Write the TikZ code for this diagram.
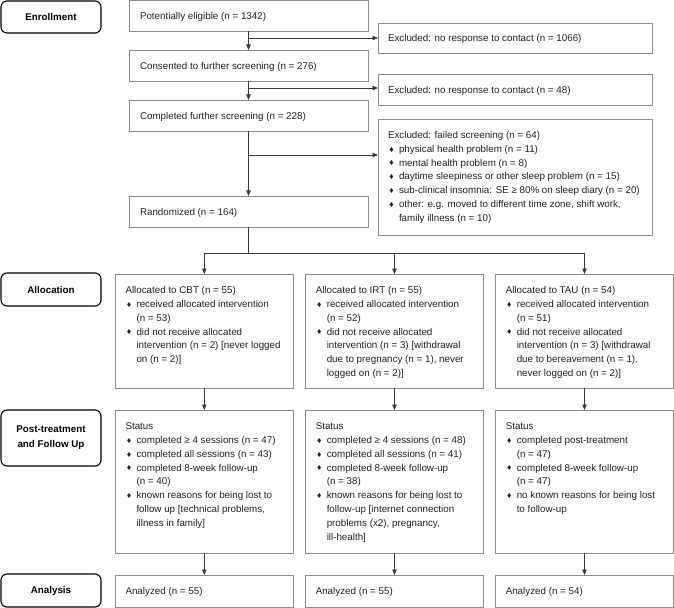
\documentclass[tikz,border=0pt]{standalone}
\usepackage{fontspec}
\setmainfont{Liberation Sans}
\usetikzlibrary{arrows.meta}
\definecolor{txt}{HTML}{222222}
\definecolor{boxc}{HTML}{8C8C8C}
\definecolor{linec}{HTML}{3A3A3A}
\newcommand{\bulx}{\makebox[11bp][l]{\hspace{1.4bp}\raisebox{0.2bp}{\fontsize{8.6bp}{8.6bp}\selectfont ♦}}}
\newcommand{\indt}{\hspace*{11bp}}
\newcommand{\txtblock}[1]{\vtop{\hsize=270bp\parindent=0pt\parskip=0pt\fontsize{9.8bp}{13.8bp}\selectfont #1}}
\tikzset{
  cbox/.style={draw=boxc, line width=0.7bp, inner sep=0pt, outer sep=0pt, fill=white},
  tnode/.style={inner sep=0pt, outer sep=0pt, anchor=base west, text=txt},
  lbl/.style={draw=black, line width=1.1bp, rounded corners=6bp, inner sep=0pt,
    minimum width=100bp, align=center, text=black,
    font=\bfseries\fontsize{9.8bp}{15bp}\selectfont},
  conn/.style={draw=linec, line width=0.8bp, -{Triangle[length=5.5bp,width=4.5bp]}},
  plain/.style={draw=linec, line width=0.8bp},
}
\begin{document}
\begin{tikzpicture}[x=1bp,y=-1bp]
\useasboundingbox (0,0) rectangle (674,608);
\fill[white] (0,0) rectangle (674,608);

% stage labels
\node[lbl, minimum height=32bp] (enr) at (51,17) {Enrollment};
\node[lbl, minimum height=33bp] (alc) at (51,289.5) {Allocation};
\node[lbl, minimum height=56bp] (pst) at (51,438) {Post-treatment\\and Follow Up};
\node[lbl, minimum height=33bp] (ana) at (51,590.5) {Analysis};

% main column
\node[cbox, minimum width=239bp, minimum height=31bp] (pe) at (248.5,16) {};
\node[cbox, minimum width=239bp, minimum height=31bp] (con) at (248.5,65.5) {};
\node[cbox, minimum width=239bp, minimum height=31bp] (cfs) at (248.5,115.5) {};
\node[cbox, minimum width=239bp, minimum height=31bp] (rnd) at (248.5,211.5) {};
\node[tnode] (tpe) at (140,19.6) {\txtblock{Potentially eligible (n = 1342)}};
\node[tnode] (tcon) at (140,69.1) {\txtblock{Consented to further screening (n = 276)}};
\node[tnode] (tcfs) at (140,119.1) {\txtblock{Completed further screening (n = 228)}};
\node[tnode] (trnd) at (140,215.1) {\txtblock{Randomized (n = 164)}};

% exclusions
\node[cbox, minimum width=274bp, minimum height=30bp] (ex1) at (515,38) {};
\node[cbox, minimum width=274bp, minimum height=31bp] (ex2) at (515,89.5) {};
\node[cbox, minimum width=274bp, minimum height=116bp] (ex3) at (515,177) {};
\node[tnode] (tex1) at (388,41.6) {\txtblock{Excluded: no response to contact (n = 1066)}};
\node[tnode] (tex2) at (388,93.1) {\txtblock{Excluded: no response to contact (n = 48)}};
\node[tnode] (tex3) at (388,138.6) {\txtblock{Excluded: failed screening (n = 64)\par
\bulx physical health problem (n = 11)\par
\bulx mental health problem (n = 8)\par
\bulx daytime sleepiness or other sleep problem (n = 15)\par
\bulx sub-clinical insomnia: SE ≥ 80\% on sleep diary (n = 20)\par
\bulx other: e.g. moved to different time zone, shift work,\par
\indt family illness (n = 10)}};

% allocation boxes
\node[cbox, minimum width=177.5bp, minimum height=114bp] (cbt) at (204.25,331) {};
\node[cbox, minimum width=177.5bp, minimum height=114bp] (irt) at (394.5,331) {};
\node[cbox, minimum width=177.5bp, minimum height=114bp] (tau) at (584.5,331) {};
\node[tnode] (tcbt) at (125.5,293.6) {\txtblock{Allocated to CBT (n = 55)\par
\bulx received allocated intervention\par
\indt (n = 53)\par
\bulx did not receive allocated\par
\indt intervention (n = 2) [never logged\par
\indt on (n = 2)]}};
\node[tnode] (tirt) at (315.75,293.6) {\txtblock{Allocated to IRT (n = 55)\par
\bulx received allocated intervention\par
\indt (n = 52)\par
\bulx did not receive allocated\par
\indt intervention (n = 3) [withdrawal\par
\indt due to pregnancy (n = 1), never\par
\indt logged on (n = 2)]}};
\node[tnode] (ttau) at (505.75,293.6) {\txtblock{Allocated to TAU (n = 54)\par
\bulx received allocated intervention\par
\indt (n = 51)\par
\bulx did not receive allocated\par
\indt intervention (n = 3) [withdrawal\par
\indt due to bereavement (n = 1),\par
\indt never logged on (n = 2)]}};

% post-treatment boxes
\node[cbox, minimum width=177.5bp, minimum height=143bp] (pcbt) at (204.25,481.5) {};
\node[cbox, minimum width=177.5bp, minimum height=143bp] (pirt) at (394.5,481.5) {};
\node[cbox, minimum width=177.5bp, minimum height=143bp] (ptau) at (584.5,481.5) {};
\node[tnode] (tpcbt) at (125.5,429.6) {\txtblock{Status\par
\bulx completed ≥ 4 sessions (n = 47)\par
\bulx completed all sessions (n = 43)\par
\bulx completed 8-week follow-up\par
\indt (n = 40)\par
\bulx known reasons for being lost to\par
\indt follow up [technical problems,\par
\indt illness in family]}};
\node[tnode] (tpirt) at (315.75,429.6) {\txtblock{Status\par
\bulx completed ≥ 4 sessions (n = 48)\par
\bulx completed all sessions (n = 41)\par
\bulx completed 8-week follow-up\par
\indt (n = 38)\par
\bulx known reasons for being lost to\par
\indt follow-up [internet connection\par
\indt problems (x2), pregnancy,\par
\indt ill-health]}};
\node[tnode] (tptau) at (505.75,429.6) {\txtblock{Status\par
\bulx completed post-treatment\par
\indt (n = 47)\par
\bulx completed 8-week follow-up\par
\indt (n = 47)\par
\bulx no known reasons for being lost\par
\indt to follow-up}};

% analysis boxes
\node[cbox, minimum width=177.5bp, minimum height=32bp] (acbt) at (204.25,591) {};
\node[cbox, minimum width=177.5bp, minimum height=32bp] (airt) at (394.5,591) {};
\node[cbox, minimum width=177.5bp, minimum height=32bp] (atau) at (584.5,591) {};
\node[tnode] (tacbt) at (125.5,594.6) {\txtblock{Analyzed (n = 55)}};
\node[tnode] (tairt) at (315.75,594.6) {\txtblock{Analyzed (n = 55)}};
\node[tnode] (tatau) at (505.75,594.6) {\txtblock{Analyzed (n = 54)}};

% connectors: enrollment
\draw[conn] (pe.south) -- (con.north);
\draw[conn] (con.south) -- (cfs.north);
\draw[conn] (cfs.south) -- (rnd.north);
\draw[conn] (pe.south |- ex1.west) -- (ex1.west);
\draw[conn] (pe.south |- 0,88) coordinate (k2) -- (k2 -| ex2.west);
\coordinate (k3) at (248.5,155);
\draw[conn] (k3) -- (k3 -| ex3.west);

% randomization branch
\coordinate (br) at (248.5,253);
\draw[plain] (rnd.south) -- (br);
\draw[plain] (cbt.north |- br) -- (tau.north |- br);
\draw[conn] (cbt.north |- br) -- (cbt.north);
\draw[conn] (irt.north |- br) -- (irt.north);
\draw[conn] (tau.north |- br) -- (tau.north);

% column arrows
\draw[conn] (cbt.south) -- (pcbt.north);
\draw[conn] (irt.south) -- (pirt.north);
\draw[conn] (tau.south) -- (ptau.north);
\draw[conn] (pcbt.south) -- (acbt.north);
\draw[conn] (pirt.south) -- (airt.north);
\draw[conn] (ptau.south) -- (atau.north);
\end{tikzpicture}
\end{document}
